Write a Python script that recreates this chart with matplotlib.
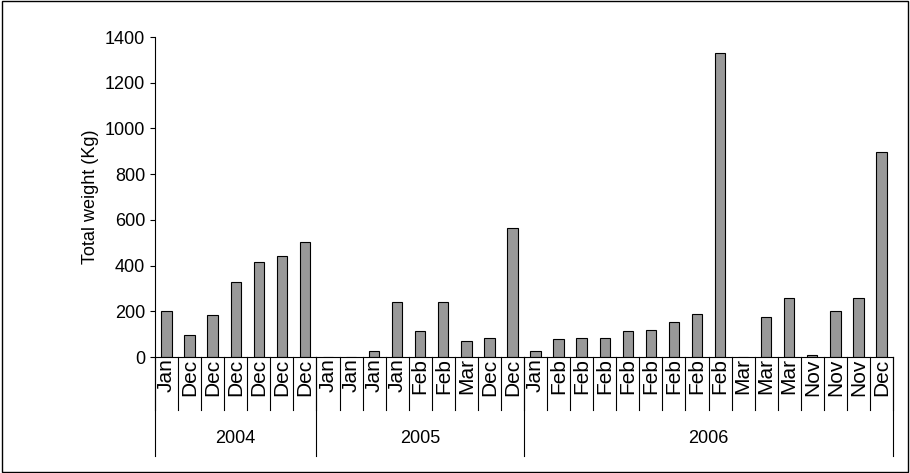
import matplotlib.pyplot as plt

plt.rcParams['font.family'] = ['Liberation Sans', 'DejaVu Sans']

months = ["Jan", "Dec", "Dec", "Dec", "Dec", "Dec", "Dec",
          "Jan", "Jan", "Jan", "Jan", "Feb", "Feb", "Mar", "Dec", "Dec",
          "Jan", "Feb", "Feb", "Feb", "Feb", "Feb", "Feb", "Feb", "Feb",
          "Mar", "Mar", "Mar", "Nov", "Nov", "Nov", "Dec"]
weights = [200, 95, 185, 330, 415, 440, 505,
           0, 0, 25, 240, 115, 240, 70, 85, 565,
           25, 80, 85, 85, 115, 120, 155, 190, 1330,
           0, 175, 260, 10, 200, 260, 895]
years = ["2004", "2005", "2006"]
year_counts = [7, 9, 16]

fig = plt.figure(figsize=(9.10, 4.73), dpi=100)
fig.patches.append(plt.Rectangle((0.002, 0.002), 0.996, 0.996, transform=fig.transFigure,
                                 fill=False, edgecolor='black', linewidth=1))
ax = fig.add_axes([155/910, 1-357/473, (893-155)/910, (357-37)/473])
x = list(range(len(weights)))
ax.bar(x, weights, width=0.45, color='#999999', edgecolor='black', linewidth=0.8)
ax.set_xlim(-0.5, len(weights) - 0.5)
ax.set_ylim(0, 1400)
ax.set_yticks(range(0, 1401, 200))
ax.set_ylabel("Total weight (Kg)", fontsize=13)
ax.tick_params(axis='y', labelsize=13, direction='out')
for s in ['top', 'right']:
    ax.spines[s].set_visible(False)
ax.set_xticks(x)
ax.set_xticklabels(months, rotation=90, fontsize=15)
ax.tick_params(axis='x', length=0, pad=1)

trans = ax.get_xaxis_transform()
# small separators between months
for i in range(len(weights) + 1):
    ax.plot([i - 0.5, i - 0.5], [0, -0.165], transform=trans, color='black',
            linewidth=0.8, clip_on=False)
# group separators and year labels
bounds = [-0.5]
for c in year_counts:
    bounds.append(bounds[-1] + c)
for b in bounds:
    ax.plot([b, b], [0, -0.31], transform=trans, color='black', linewidth=0.8, clip_on=False)
for i, y in enumerate(years):
    ax.text((bounds[i] + bounds[i+1]) / 2, -0.255, y, transform=trans,
            ha='center', va='center', fontsize=13)

fig.savefig("out.png", dpi=100)
